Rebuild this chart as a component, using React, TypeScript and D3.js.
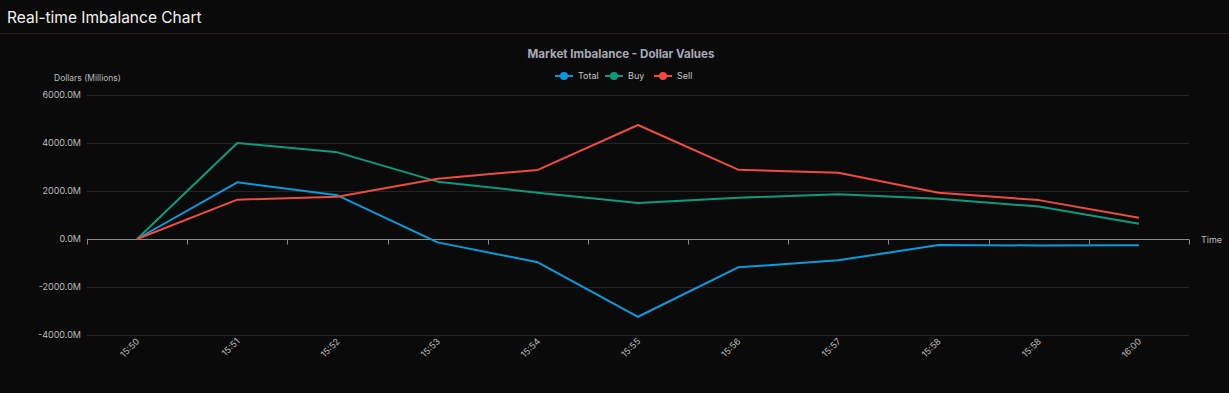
import React, { useRef, useEffect } from 'react';
import * as d3 from 'd3';

const times = ['15:50', '15:51', '15:52', '15:53', '15:54', '15:55', '15:56', '15:57', '15:58', '15:58', '16:00'];
const totalValues = [0, 2360, 1820, -140, -970, -3240, -1180, -890, -250, -270, -260];
const buyValues = [0, 4000, 3610, 2390, 1930, 1500, 1720, 1860, 1680, 1350, 640];
const sellValues = [0, 1640, 1760, 2510, 2880, 4750, 2890, 2760, 1930, 1620, 890];
const yTicks = [-4000, -2000, 0, 2000, 4000, 6000];

const series = [
  { name: 'Total', values: totalValues, color: '#0b9bdc' },
  { name: 'Buy', values: buyValues, color: '#0f9a7c' },
  { name: 'Sell', values: sellValues, color: '#f04b3f' },
];

const W = 1229;
const H = 393;
const FONT = 'Inter, "Noto Sans", sans-serif';

const Chart = () => {
  const svgRef = useRef<SVGSVGElement | null>(null);

  useEffect(() => {
    const svg = d3.select(svgRef.current);
    svg.selectAll('*').remove();

    const margin = { top: 95, right: 40, bottom: 58, left: 87 };
    const width = W - margin.left - margin.right;
    const height = H - margin.top - margin.bottom;

    svg.append('rect').attr('width', W).attr('height', H).attr('fill', '#0a0a0a');

    // header
    svg.append('text')
      .attr('x', 7).attr('y', 23)
      .attr('fill', '#f2f2f2')
      .attr('font-family', FONT)
      .attr('font-size', 15.5)
      .text('Real-time Imbalance Chart');
    svg.append('line')
      .attr('x1', 0).attr('x2', W).attr('y1', 33.5).attr('y2', 33.5)
      .attr('stroke', '#231a1c');

    // chart title
    svg.append('text')
      .attr('x', 621).attr('y', 58)
      .attr('text-anchor', 'middle')
      .attr('fill', '#a9a9b8')
      .attr('font-family', FONT)
      .attr('font-weight', 'bold')
      .attr('font-size', 11.6)
      .text('Market Imbalance - Dollar Values');

    // legend
    const legendX = [555, 605, 654];
    series.forEach((s, i) => {
      const lg = svg.append('g').attr('transform', `translate(${legendX[i]},76)`);
      lg.append('line').attr('x1', 0).attr('x2', 18).attr('stroke', s.color).attr('stroke-width', 2);
      lg.append('circle').attr('cx', 9).attr('r', 4).attr('fill', s.color);
      lg.append('text')
        .attr('x', 23).attr('y', 3)
        .attr('fill', '#c8c8c8')
        .attr('font-family', FONT)
        .attr('font-size', 9)
        .text(s.name);
    });

    const g = svg.append('g').attr('transform', `translate(${margin.left},${margin.top})`);

    const x = d3.scaleBand<number>()
      .domain(d3.range(times.length))
      .range([0, width]);

    const y = d3.scaleLinear()
      .domain([-4000, 6000])
      .range([height, 0]);

    // grid
    g.append('g')
      .selectAll('line')
      .data(yTicks.filter(t => t !== 0))
      .enter().append('line')
      .attr('x1', 0).attr('x2', width)
      .attr('y1', d => Math.round(y(d)) + 0.5).attr('y2', d => Math.round(y(d)) + 0.5)
      .attr('stroke', '#232323');

    // y labels
    g.append('g')
      .selectAll('text')
      .data(yTicks)
      .enter().append('text')
      .attr('x', -6)
      .attr('y', d => y(d) + 3)
      .attr('text-anchor', 'end')
      .attr('fill', '#bdbdbd')
      .attr('font-family', FONT)
      .attr('font-size', 9)
      .text(d => `${d.toFixed(1)}M`);

    svg.append('text')
      .attr('x', 54).attr('y', 81)
      .attr('fill', '#bdbdbd')
      .attr('font-family', FONT)
      .attr('font-size', 8.5)
      .text('Dollars (Millions)');

    // zero axis with ticks at band boundaries
    const y0 = Math.round(y(0)) + 0.5;
    g.append('line')
      .attr('x1', 0).attr('x2', width)
      .attr('y1', y0).attr('y2', y0)
      .attr('stroke', '#8a8a8a');
    const bounds = d3.range(times.length + 1).map(i => i * x.bandwidth());
    g.append('g')
      .selectAll('line')
      .data(bounds)
      .enter().append('line')
      .attr('x1', d => Math.round(d) + 0.5).attr('x2', d => Math.round(d) + 0.5)
      .attr('y1', y0).attr('y2', y0 + 5)
      .attr('stroke', '#8a8a8a');

    g.append('text')
      .attr('x', width + 12).attr('y', y0 + 3)
      .attr('fill', '#bdbdbd')
      .attr('font-family', FONT)
      .attr('font-size', 9)
      .text('Time');

    // x labels rotated
    g.append('g')
      .selectAll('text')
      .data(times)
      .enter().append('text')
      .attr('transform', (d, i) => `translate(${(x(i) as number) + x.bandwidth() / 2 + 3},${height + 7}) rotate(-45)`)
      .attr('text-anchor', 'end')
      .attr('fill', '#bdbdbd')
      .attr('font-family', FONT)
      .attr('font-size', 9)
      .text(d => d);

    const line = d3.line<number>()
      .x((d, i) => (x(i) as number) + x.bandwidth() / 2)
      .y(d => y(d));

    series.forEach(s => {
      g.append('path')
        .datum(s.values)
        .attr('fill', 'none')
        .attr('stroke', s.color)
        .attr('stroke-width', 2)
        .attr('stroke-linejoin', 'round')
        .attr('d', line);
    });
  }, []);

  return <svg ref={svgRef} width={W} height={H} style={{ display: 'block' }} />;
};

export default function App() {
  return (
    <div style={{ position: 'fixed', left: 0, top: 0, width: W, height: H, background: '#0a0a0a' }}>
      <Chart />
    </div>
  );
}
